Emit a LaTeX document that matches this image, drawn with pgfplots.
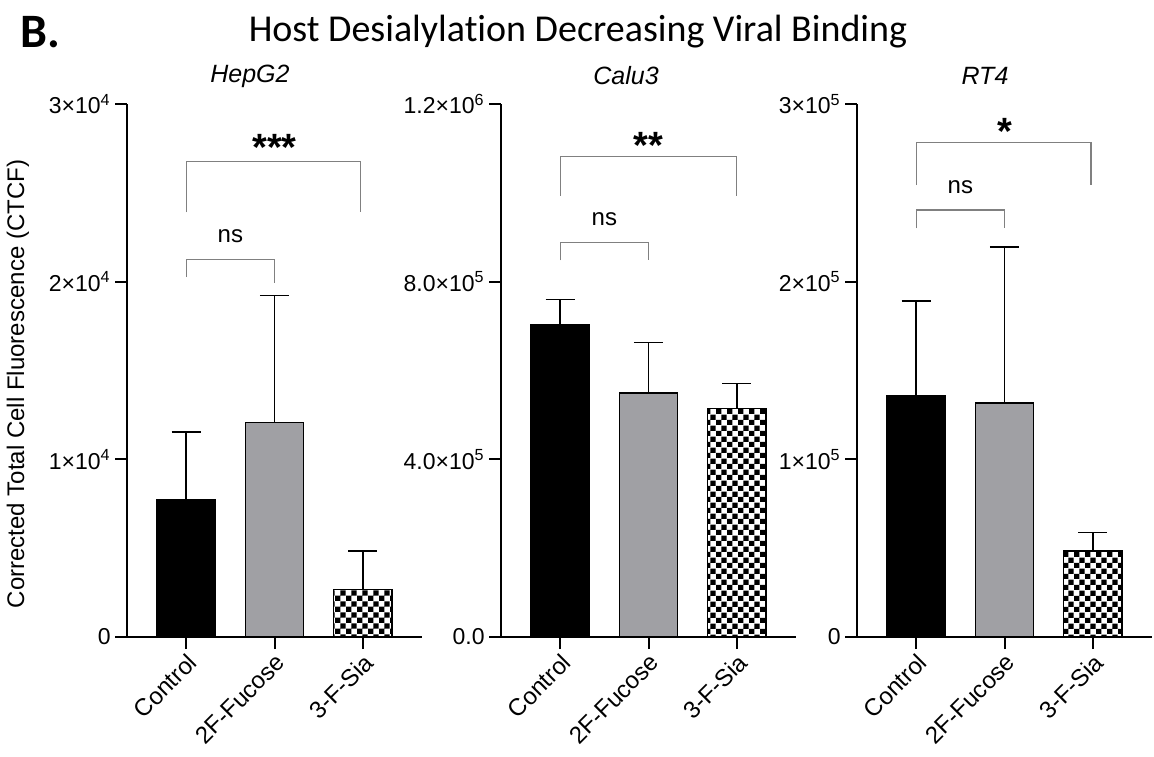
\documentclass[border=0pt]{standalone}
\usepackage{fontspec}
\setmainfont{Liberation Sans}
\newfontfamily\calibri[Ligatures=NoCommon]{Carlito}
\usepackage{pgfplots}
\pgfplotsset{compat=1.18}
\usetikzlibrary{patterns}
\definecolor{bargray}{RGB}{160,160,164}
\definecolor{brk}{RGB}{128,128,128}
\pgfdeclarepatternformonly{checker}{\pgfpointorigin}{\pgfqpoint{5.6pt}{5.6pt}}{\pgfqpoint{5.6pt}{5.6pt}}{%
  \pgfpathrectangle{\pgfpointorigin}{\pgfqpoint{2.8pt}{2.8pt}}%
  \pgfpathrectangle{\pgfqpoint{2.8pt}{2.8pt}}{\pgfqpoint{2.8pt}{2.8pt}}%
  \pgfusepath{fill}}
\pgfplotsset{
  panel/.style={
    scale only axis, width=147.5pt, height=266.5pt,
    axis x line*=bottom, axis y line*=left,
    axis line style={line width=1pt, black},
    xmin=-0.67, xmax=2.67, ymin=0,
    xtick={0,1,2}, xticklabels={Control,2F-Fucose,3-F-Sia},
    x tick label style={rotate=45, anchor=north east, font=\fontsize{12}{14}\selectfont, inner sep=1pt},
    y tick label style={font=\fontsize{11.5}{13}\selectfont, inner sep=2pt},
    tick align=outside, major tick length=6pt,
    tick style={line width=1pt, black},
    scaled ticks=false, clip=false,
  },
  bar/.style={ybar, bar width=0.66, line width=0.75pt, draw=black,
    /pgfplots/error bars/y dir=plus, /pgfplots/error bars/y explicit,
    /pgfplots/error bars/error bar style={line width=0.75pt, black},
    /pgfplots/error bars/error mark options={line width=0.75pt, black, mark size=7.3pt, rotate=90}},
}
\tikzset{
  brkline/.style={brk, line width=0.6pt},
  stars/.style={font=\fontsize{19}{19}\bfseries\selectfont, anchor=base, inner sep=0pt},
  nslab/.style={font=\fontsize{12}{14}\selectfont, anchor=base, inner sep=0pt},
  ptitle/.style={font=\fontsize{12.5}{14}\itshape\selectfont},
}
\begin{document}
\begin{tikzpicture}
\path (0,0) rectangle (577pt,378pt);
% titles
\node[anchor=west, inner sep=0pt, font=\calibri\fontsize{24}{26}\bfseries\selectfont] at (10pt,362pt) {B.};
\node[font=\calibri\fontsize{19}{22}\selectfont] at (289pt,362pt) {Host Desialylation Decreasing Viral Binding};
\node[ptitle] at (125pt,340pt) {HepG2};
\node[ptitle] at (313pt,340pt) {Calu3};
\node[ptitle] at (492.5pt,340pt) {RT4};
\node[rotate=90, font=\fontsize{12}{14}\selectfont] at (9pt,186pt) {Corrected Total Cell Fluorescence (CTCF)};

% HepG2
\begin{axis}[panel, at={(63.5pt,59.5pt)}, anchor=south west,
  ymax=30000, ytick={0,10000,20000,30000},
  yticklabels={0,1×10\textsuperscript{4},2×10\textsuperscript{4},3×10\textsuperscript{4}}]
\addplot[bar, fill=black] coordinates {(0,7700) +- (0,3850)};
\addplot[bar, fill=bargray] coordinates {(1,12060) +- (0,7170)};
\addplot[bar, fill=white, postaction={pattern=checker}] coordinates {(2,2680) +- (0,2160)};
\draw[brkline] (axis cs:0,20260) |- (axis cs:1,21270) -- (axis cs:1,19900);
\draw[brkline] (axis cs:0,23900) |- (axis cs:1.97,26750) -- (axis cs:1.97,23900);
\node[nslab] at (axis cs:0.5,22190) {ns};
\node[stars] at (axis cs:1,26800) {***};
\end{axis}

% Calu3
\begin{axis}[panel, at={(250.5pt,59.5pt)}, anchor=south west,
  ymax=1200000, ytick={0,400000,800000,1200000},
  yticklabels={0.0,4.0×10\textsuperscript{5},8.0×10\textsuperscript{5},1.2×10\textsuperscript{6}}]
\addplot[bar, fill=black] coordinates {(0,702000) +- (0,58000)};
\addplot[bar, fill=bargray] coordinates {(1,549000) +- (0,114000)};
\addplot[bar, fill=white, postaction={pattern=checker}] coordinates {(2,514000) +- (0,57000)};
\draw[brkline] (axis cs:0,848000) |- (axis cs:1,888500) -- (axis cs:1,848000);
\draw[brkline] (axis cs:0,993000) |- (axis cs:2,1082700) -- (axis cs:2,993000);
\node[nslab] at (axis cs:0.5,925800) {ns};
\node[stars] at (axis cs:1,1078000) {**};
\end{axis}

% RT4
\begin{axis}[panel, at={(428.5pt,59.5pt)}, anchor=south west,
  ymax=300000, ytick={0,100000,200000,300000},
  yticklabels={0,1×10\textsuperscript{5},2×10\textsuperscript{5},3×10\textsuperscript{5}}]
\addplot[bar, fill=black] coordinates {(0,135800) +- (0,53450)};
\addplot[bar, fill=bargray] coordinates {(1,131700) +- (0,87900)};
\addplot[bar, fill=white, postaction={pattern=checker}] coordinates {(2,48400) +- (0,10500)};
\draw[brkline] (axis cs:0,230000) |- (axis cs:1,240300) -- (axis cs:1,230000);
\draw[brkline] (axis cs:0,254400) |- (axis cs:1.98,278200) -- (axis cs:1.98,254400);
\node[nslab] at (axis cs:0.5,249700) {ns};
\node[stars] at (axis cs:1,277000) {*};
\end{axis}
\end{tikzpicture}
\end{document}
